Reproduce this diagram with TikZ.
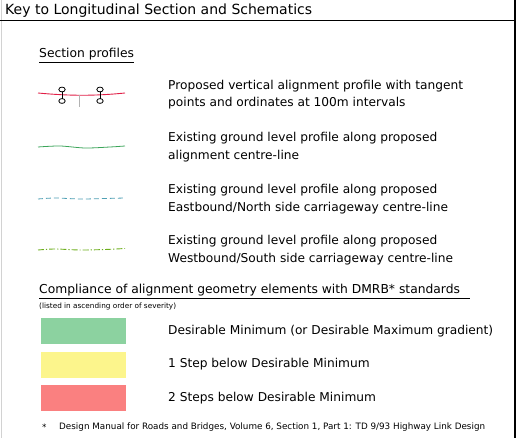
\documentclass[tikz,border=0pt]{standalone}
\usepackage{fontspec}
\setmainfont{DejaVu Sans}
\usepackage{tikz}
\usepackage{xcolor}
\usetikzlibrary{positioning}

\definecolor{keygreen}{RGB}{140,210,160}
\definecolor{keyyellow}{RGB}{252,245,140}
\definecolor{keyred}{RGB}{250,128,128}
\definecolor{linered}{RGB}{225,30,70}
\definecolor{linegreen}{RGB}{60,165,90}
\definecolor{lineblue}{RGB}{80,160,180}
\definecolor{linelime}{RGB}{110,175,30}

\begin{document}
\begin{tikzpicture}[x=1pt,y=-1pt,
    txt/.style={anchor=west,inner sep=0pt,align=left,font=\fontsize{12.2}{17.5}\selectfont},
    head/.style={anchor=west,inner sep=0pt,font=\fontsize{12.3}{14}\selectfont},
    swatch/.style={anchor=north west,inner sep=0pt,minimum width=85pt,minimum height=26pt}]
    \useasboundingbox (0,0) rectangle (525,438);
    % frame
    \draw[gray!35] (1,0) -- (1,438);
    \draw[line width=2pt] (515,0) -- (515,438);
    \node[anchor=west,inner sep=0pt,font=\fontsize{14}{15}\selectfont] (title) at (5,10.5) {Key to Longitudinal Section and Schematics};
    \draw[line width=0.8pt] (0,20) -- (515,20);
    % section profiles
    \node[head] (sec) at (39,54) {Section profiles};
    \draw[line width=0.7pt] ([yshift=-2pt]sec.south west) -- ([yshift=-2pt]sec.south east);
    \draw[linered, line width=0.9pt] (38,93) .. controls (70,96) and (95,96) .. (125,93);
    \draw[gray!60] (79,95) -- (79,107);
    \foreach \x in {62,100} {
        \draw[line width=0.8pt] (\x,89.5) circle[x radius=3.2,y radius=2.4];
        \draw[line width=0.8pt] (\x,91.9) -- (\x,98.6);
        \draw[line width=0.8pt] (\x,101) circle[x radius=3.2,y radius=2.4];
    }
    \node[txt] (p1) at (168,94.5) {Proposed vertical alignment profile with tangent\\points and ordinates at 100m intervals};
    \draw[linegreen, line width=0.8pt] plot[smooth] coordinates {(38,147) (60,146) (85,148) (110,147) (125,146)};
    \node[txt] (p2) at (168,147) {Existing ground level profile along proposed\\alignment centre-line};
    \draw[lineblue, line width=0.8pt, dash pattern=on 5pt off 3pt] plot[smooth] coordinates {(38,199) (55,198) (80,199) (105,198.5) (125,198)};
    \node[txt] (p3) at (168,199) {Existing ground level profile along proposed\\Eastbound/North side carriageway centre-line};
    \draw[linelime, line width=0.9pt, dash pattern=on 6pt off 2pt on 1.2pt off 2pt] plot[smooth] coordinates {(38,250) (55,249) (80,250) (105,249.5) (125,248.5)};
    \node[txt] (p4) at (168,250) {Existing ground level profile along proposed\\Westbound/South side carriageway centre-line};
    % compliance
    \node[head] (comp) at (39,290) {Compliance of alignment geometry elements with DMRB* standards};
    \draw[line width=0.7pt] ([yshift=-2pt]comp.south west) -- ([shift={(10pt,-2pt)}]comp.south east);
    \node[anchor=west, inner sep=0pt, font=\fontsize{7.3}{8}\selectfont] (sev) at (39,306) {(listed in ascending order of severity)};
    \node[swatch, fill=keygreen] (s1) at (41,318) {};
    \node[txt] (d1) at (168,331) {Desirable Minimum (or Desirable Maximum gradient)};
    \node[swatch, fill=keyyellow] (s2) at (41,352) {};
    \node[txt] (d2) at (168,364) {1 Step below Desirable Minimum};
    \node[swatch, fill=keyred] (s3) at (41,385) {};
    \node[txt] (d3) at (168,398) {2 Steps below Desirable Minimum};
    % footnote
    \node[anchor=west, inner sep=0pt, font=\fontsize{8.8}{9}\selectfont] (star) at (42,427) {*};
    \node[anchor=west, inner sep=0pt, font=\fontsize{8.8}{9}\selectfont] (fn) at (59,427) {Design Manual for Roads and Bridges, Volume 6, Section 1, Part 1: TD 9/93 Highway Link Design};
\end{tikzpicture}
\end{document}
